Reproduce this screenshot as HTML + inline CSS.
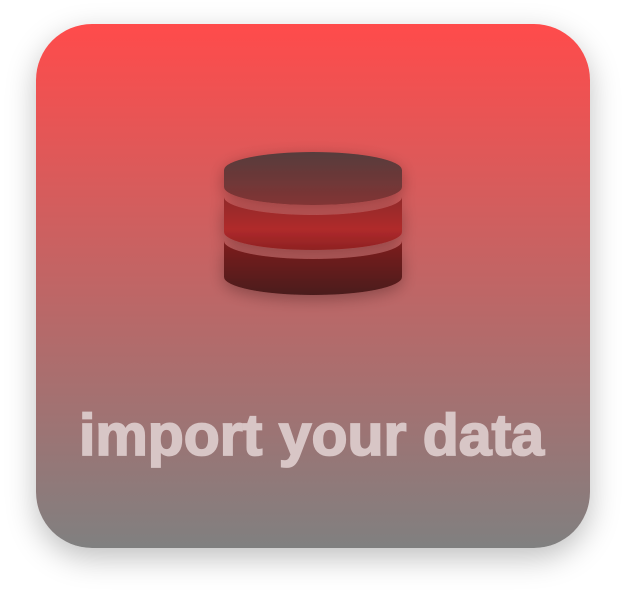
<!DOCTYPE html>
<html><head><style>
html,body{margin:0;padding:0;background:#fff;width:626px;height:596px;overflow:hidden}
.card{position:absolute;left:36px;top:24px;width:554px;height:524px;border-radius:56px;
background:linear-gradient(#ff4b4b,#808080);box-shadow:0 10px 30px rgba(0,0,0,0.25)}
svg{position:absolute;left:0;top:0}
</style></head><body>
<div class="card"></div>
<svg width="626" height="596">
<defs>
<linearGradient id="g1" x1="0" y1="0" x2="0" y2="1"><stop offset="0" stop-color="#573c3c"/><stop offset="1" stop-color="#823434"/></linearGradient>
<linearGradient id="g2" x1="0" y1="0" x2="0" y2="1"><stop offset="0" stop-color="#8f2b2b"/><stop offset="0.6" stop-color="#b02a2c"/><stop offset="1" stop-color="#8e2222"/></linearGradient>
<linearGradient id="g3" x1="0" y1="0" x2="0" y2="1"><stop offset="0" stop-color="#7e2020"/><stop offset="1" stop-color="#4a1a1a"/></linearGradient>
<filter id="sh" x="-30%" y="-30%" width="160%" height="160%"><feGaussianBlur in="SourceAlpha" stdDeviation="8"/><feOffset dy="4"/><feComponentTransfer><feFuncA type="linear" slope="0.3"/></feComponentTransfer><feMerge><feMergeNode/><feMergeNode in="SourceGraphic"/></feMerge></filter>
</defs>
<g filter="url(#sh)">
<path d="M224,170 A89,18 0 0 1 402,170 V187 A89,18 0 0 1 224,187 Z" fill="url(#g1)"/>
<path d="M224,197 A89,18 0 0 0 402,197 V232 A89,18 0 0 1 224,232 Z" fill="url(#g2)"/>
<path d="M224,241 A89,18 0 0 0 402,241 V277 A89,18 0 0 1 224,277 Z" fill="url(#g3)"/>
</g>
<text x="79" y="455" textLength="465" lengthAdjust="spacingAndGlyphs" font-family="Liberation Sans, sans-serif" font-weight="bold" font-size="58" fill="#d8c6c6" stroke="#d8c6c6" stroke-width="1.8">import your data</text>
</svg>
</body></html>
